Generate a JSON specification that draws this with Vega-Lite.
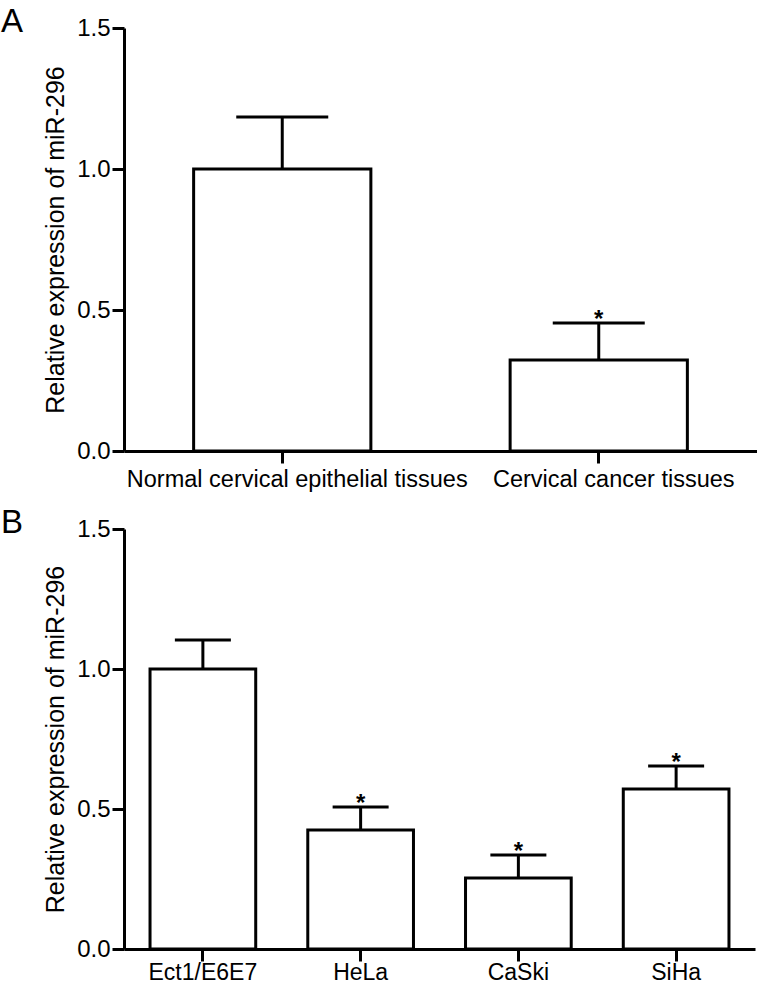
{
  "$schema": "https://vega.github.io/schema/vega-lite/v6.json",
  "background": "white",
  "padding": {"left": 1, "top": 6, "right": 0, "bottom": 0},
  "spacing": 16,
  "config": {
    "view": {"stroke": null},
    "font": "Liberation Sans",
    "axis": {
      "domainColor": "black", "domainWidth": 3, "tickColor": "black", "tickWidth": 3, "tickSize": 12,
      "labelColor": "black", "titleColor": "black", "labelFont": "Liberation Sans", "titleFont": "Liberation Sans",
      "grid": false, "titleFontWeight": "normal", "labelLimit": 0
    },
    "title": {"font": "Liberation Sans", "fontWeight": "normal", "fontSize": 33, "anchor": "start", "frame": "group", "color": "black"}
  },
  "datasets": {
    "tissues": [
      {"group": "Normal cervical epithelial tissues", "value": 1.0, "upper": 1.184, "star": ""},
      {"group": "Cervical cancer tissues", "value": 0.323, "upper": 0.454, "star": "*"}
    ],
    "cells": [
      {"group": "Ect1/E6E7", "value": 1.0, "upper": 1.104, "star": ""},
      {"group": "HeLa", "value": 0.425, "upper": 0.507, "star": "*"},
      {"group": "CaSki", "value": 0.254, "upper": 0.336, "star": "*"},
      {"group": "SiHa", "value": 0.571, "upper": 0.654, "star": "*"}
    ]
  },
  "vconcat": [
    {
      "title": {"text": "A", "dx": -123, "dy": 27},
      "width": 633,
      "height": 423,
      "data": {"name": "tissues"},
      "encoding": {
        "x": {"field": "group", "type": "nominal", "sort": null,
          "scale": {"paddingInner": 0.44, "paddingOuter": 0.22},
          "axis": {"title": null, "labelAngle": 0, "labelFontSize": 23.5, "labelPadding": 4, "labelOffset": 15}},
        "y": {"field": "value", "type": "quantitative",
          "scale": {"domain": [0, 1.5], "nice": false},
          "axis": {"title": "Relative expression of miR-296", "values": [0, 0.5, 1.0, 1.5], "format": ".1f",
            "labelFontSize": 24, "titleFontSize": 25, "labelPadding": 2, "titlePadding": 8}}
      },
      "layer": [
        {"mark": {"type": "bar", "fill": "white", "stroke": "black", "strokeWidth": 3}},
        {"mark": {"type": "rule", "color": "black", "strokeWidth": 3}, "encoding": {"y2": {"field": "upper"}}},
        {"mark": {"type": "tick", "color": "black", "opacity": 1, "thickness": 3, "size": 92, "orient": "horizontal"}, "encoding": {"y": {"field": "upper", "type": "quantitative"}}},
        {"mark": {"type": "text", "fontSize": 24, "fontWeight": "bold", "baseline": "alphabetic", "dy": 4, "color": "black"}, "encoding": {"y": {"field": "upper", "type": "quantitative"}, "text": {"field": "star"}}}
      ]
    },
    {
      "title": {"text": "B", "dx": -123, "dy": 27},
      "width": 631,
      "height": 420,
      "data": {"name": "cells"},
      "encoding": {
        "x": {"field": "group", "type": "nominal", "sort": null,
          "scale": {"paddingInner": 0.33, "paddingOuter": 0.165},
          "axis": {"title": null, "labelAngle": 0, "labelFontSize": 23, "labelPadding": 0}},
        "y": {"field": "value", "type": "quantitative",
          "scale": {"domain": [0, 1.5], "nice": false},
          "axis": {"title": "Relative expression of miR-296", "values": [0, 0.5, 1.0, 1.5], "format": ".1f",
            "labelFontSize": 24, "titleFontSize": 25, "labelPadding": 2, "titlePadding": 8}}
      },
      "layer": [
        {"mark": {"type": "bar", "fill": "white", "stroke": "black", "strokeWidth": 3}},
        {"mark": {"type": "rule", "color": "black", "strokeWidth": 3}, "encoding": {"y2": {"field": "upper"}}},
        {"mark": {"type": "tick", "color": "black", "opacity": 1, "thickness": 3, "size": 56, "orient": "horizontal"}, "encoding": {"y": {"field": "upper", "type": "quantitative"}}},
        {"mark": {"type": "text", "fontSize": 24, "fontWeight": "bold", "baseline": "alphabetic", "dy": 4, "color": "black"}, "encoding": {"y": {"field": "upper", "type": "quantitative"}, "text": {"field": "star"}}}
      ]
    }
  ]
}
